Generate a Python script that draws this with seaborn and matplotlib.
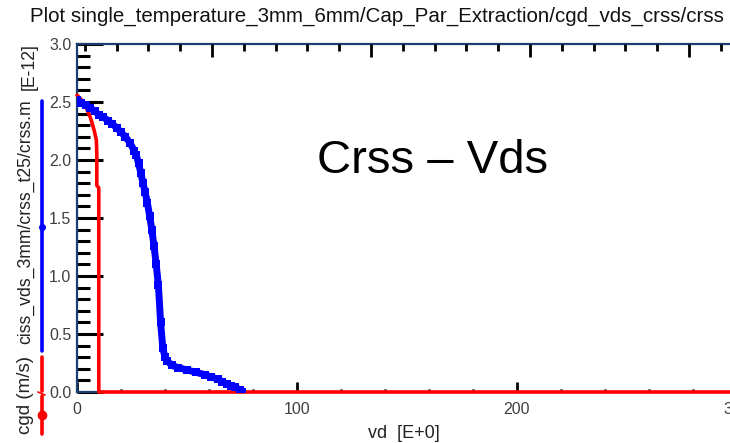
import numpy as np
import pandas as pd
import matplotlib
matplotlib.use("Agg")
import matplotlib.pyplot as plt
from matplotlib.lines import Line2D
from matplotlib.ticker import MultipleLocator
import seaborn as sns

# ---- data ----
crss_vd = [0, 2, 4, 6, 8, 10, 12, 14, 16, 18, 20, 22, 24, 26, 27, 28, 29, 30,
           31, 32, 33, 34, 35, 36, 37, 38, 39, 40, 41, 43, 46, 50, 54, 58, 61,
           64, 66, 68, 70, 72, 74, 75]
crss_val = [2.52, 2.49, 2.47, 2.45, 2.42, 2.39, 2.37, 2.34, 2.31, 2.28, 2.24,
            2.20, 2.15, 2.08, 2.04, 1.97, 1.89, 1.80, 1.72, 1.63, 1.52, 1.40,
            1.26, 1.10, 0.92, 0.60, 0.38, 0.30, 0.27, 0.23, 0.21, 0.19, 0.17,
            0.15, 0.13, 0.11, 0.09, 0.07, 0.05, 0.04, 0.02, 0.0]
cgd_vd = [0, 2, 4, 6, 7, 8, 8.8, 9.0, 9.0, 9.9, 9.9, 300]
cgd_val = [2.56, 2.52, 2.46, 2.37, 2.31, 2.24, 2.17, 2.05, 1.78, 1.76, 0.0, 0.0]

x_ticks = [0, 100, 200, 300]
y_ticks = [0.0, 0.5, 1.0, 1.5, 2.0, 2.5, 3.0]

title = "Plot single_temperature_3mm_6mm/Cap_Par_Extraction/cgd_vds_crss/crss"
annot = "Crss \u2013 Vds"

sns.set_theme(style="white")
plt.rcParams["font.family"] = ["Liberation Sans", "DejaVu Sans"]

W, H = 730, 443
fig = plt.figure(figsize=(W / 100, H / 100), dpi=100)
fig.patch.set_facecolor("white")

def fx(px):
    return px / W

def fy(py):
    return 1 - py / H

ax = fig.add_axes([fx(77), fy(392), fx(737) - fx(77), fy(44) - fy(392)])
ax.set_facecolor("white")

crss_df = pd.DataFrame({"vd": crss_vd, "c": crss_val})
cgd_df = pd.DataFrame({"vd": cgd_vd, "c": cgd_val})

sns.lineplot(data=cgd_df, x="vd", y="c", sort=False, estimator=None,
             color="#ff0000", linewidth=2.6, ax=ax, zorder=4, clip_on=False)
sns.lineplot(data=crss_df, x="vd", y="c", sort=False, estimator=None,
             color="#0000ff", linewidth=5.0, marker="s", markersize=6,
             markeredgewidth=0, ax=ax, zorder=5)

ax.set_xlim(0, 300)
ax.set_ylim(0, 3.0)
ax.set_xticks(x_ticks)
ax.set_xticklabels([str(v) for v in x_ticks])
ax.set_yticks(y_ticks)
ax.set_yticklabels([f"{v:.1f}" for v in y_ticks])
ax.xaxis.set_minor_locator(MultipleLocator(20))
ax.yaxis.set_minor_locator(MultipleLocator(0.1))

ax.tick_params(axis="y", which="major", direction="in", length=19, width=2.2,
               color="black", pad=4, labelsize=11.5, labelcolor="#404040",
               left=True, right=False)
ax.tick_params(axis="y", which="minor", direction="in", length=9.5, width=2.2,
               color="black", left=True, right=False)
ax.tick_params(axis="x", which="major", direction="in", length=7, width=2.0,
               color="black", pad=7, labelsize=11.5, labelcolor="#404040",
               bottom=True, top=False)
ax.tick_params(axis="x", which="minor", direction="in", length=2.5, width=2.0,
               color="black", bottom=True, top=False)

for s in ax.spines.values():
    s.set_color("#1c3f73")
    s.set_linewidth(1.6)
    s.set_visible(True)

ax.set_xlabel("")
ax.set_ylabel("")

# top ticks (separate scale)
axt = ax.twiny()
axt.set_xlim(7.55, 215.1)
axt.xaxis.set_major_locator(MultipleLocator(50))
axt.xaxis.set_minor_locator(MultipleLocator(10))
axt.tick_params(axis="x", which="major", direction="in", length=9, width=2.0,
                color="black", labeltop=False, top=True)
axt.tick_params(axis="x", which="minor", direction="in", length=5, width=2.0,
                color="black", top=True)
for s in axt.spines.values():
    s.set_visible(False)

# texts
fig.text(fx(30), fy(22), title, fontsize=14.8, color="#111111",
         family=["Liberation Sans Narrow", "Liberation Sans", "DejaVu Sans"],
         ha="left", va="baseline")
fig.text(fx(433), fy(161), annot, fontsize=34, color="black", ha="center",
         va="center", family=["Liberation Sans", "DejaVu Sans"])
fig.text(fx(404), fy(434), "vd  [E+0]", fontsize=13, color="#222222",
         ha="center", va="center")

# y-axis label pieces
fig.text(fx(26), fy(395), "cgd (m/s)", rotation=90, fontsize=13.5,
         color="#222222", ha="center", va="center")
fig.text(fx(26), fy(222), "ciss_vds_3mm/crss_t25/crss.m", rotation=90,
         fontsize=12.7, color="#222222", ha="center", va="center")
fig.text(fx(29), fy(67), "[E-12]", rotation=90, fontsize=12.7,
         color="#222222", ha="center", va="center")

# legend-like coloured bars
fig.add_artist(Line2D([fx(41.5), fx(41.5)], [fy(101), fy(351)],
                      color="#0000ff", lw=2.6, transform=fig.transFigure))
fig.add_artist(Line2D([fx(41.5)], [fy(227)], color="#0000ff", marker="o",
                      markersize=4, transform=fig.transFigure))
fig.add_artist(Line2D([fx(41.5), fx(41.5)], [fy(357), fy(391)],
                      color="#ff0000", lw=2.6, transform=fig.transFigure))
fig.add_artist(Line2D([fx(41.5), fx(41.5)], [fy(396), fy(434)],
                      color="#ff0000", lw=2.6, transform=fig.transFigure))
fig.add_artist(Line2D([fx(38), fx(45)], [fy(392), fy(395)],
                      color="#ff0000", lw=1.2, transform=fig.transFigure))
fig.add_artist(Line2D([fx(41.5)], [fy(415)], color="#ff0000", marker="o",
                      markersize=6, transform=fig.transFigure))

fig.savefig("out.png", dpi=100, facecolor="white")
